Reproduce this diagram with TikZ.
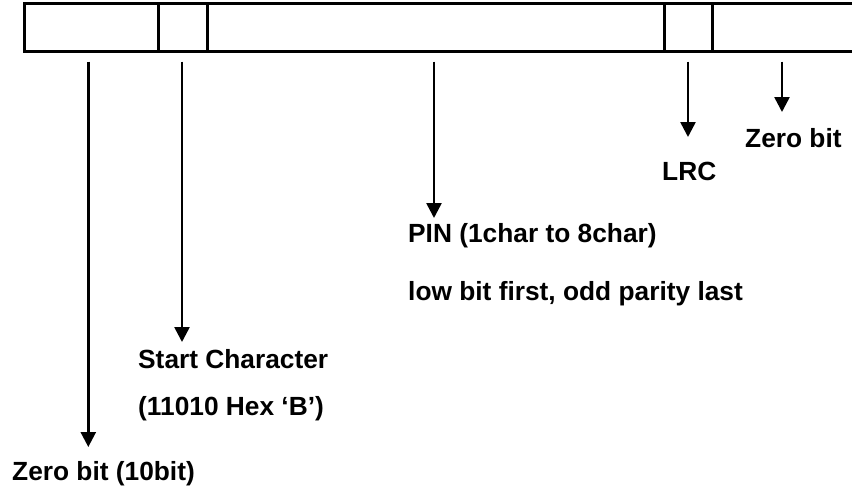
\documentclass[tikz,border=0pt]{standalone}
\usepackage{fontspec}
\setmainfont{Liberation Sans}
\usetikzlibrary{arrows.meta}
\tikzset{
	cell/.style={draw,line width=3pt,inner sep=0pt,minimum height=47.7pt},
	lbl/.style={anchor=base west,inner sep=0pt},
	arr/.style={->,line width=2.6pt,shorten <=9pt}
}
\begin{document}
\begin{tikzpicture}[x=1pt,y=-1pt,>={Triangle[width=15pt,length=15pt]},font=\fontsize{26.3}{30}\bfseries\selectfont]
	\useasboundingbox (0,0) rectangle (852,488);
	\def\my{27.2}
	% the frame, one cell per field
	\foreach \n/\a/\b in {c1/24.5/158.5,c2/158.5/207,c3/207/664.7,c4/664.7/712,c5/712/856}{
		\node[cell,minimum width={(\b-\a)*1pt}] (\n) at ({(\a+\b)/2},\my) {};}
	%===========================================
	\node[lbl] (zbl) at (12,480) {Zero bit (10bit)};
	\node[lbl] (stc) at (138,368) {Start Character};
	\node[lbl] (hex) at (138,415) {(11010 Hex ‘B’)};
	\node[lbl] (pin) at (408,242) {PIN (1char to 8char)};
	\node[lbl] (low) at (408,300) {low bit first, odd parity last};
	\node[lbl] (lrc) at (662,180) {LRC};
	\node[lbl] (zbr) at (745,147) {Zero bit};
	\coordinate (tzbl) at (88.3,447);
	\coordinate (tstc) at (182,342);
	\coordinate (tpin) at (434,218);
	\coordinate (tlrc) at (688,137);
	\coordinate (tzbr) at (782,112);
	\foreach \c/\t in {c1/tzbl,c2/tstc,c3/tpin,c4/tlrc,c5/tzbr}
		\draw[arr] (\c.south -| \t) -- (\t);
\end{tikzpicture}
\end{document}
